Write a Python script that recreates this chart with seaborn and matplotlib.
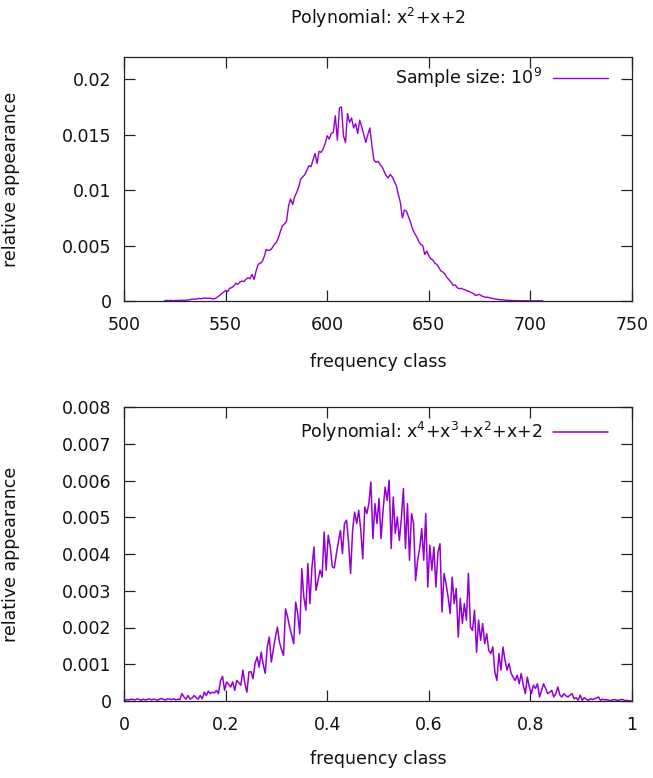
import numpy as np
import pandas as pd
import matplotlib
matplotlib.use('Agg')
import matplotlib.pyplot as plt
import seaborn as sns
from matplotlib.ticker import FuncFormatter

# top panel: x^2+x+2, frequency classes 520..706, relative appearance in units of 1e-4
quad_classes = list(range(520, 707))
quad_appearance_e4 = [
    0.3, 0.5, 0.4, 0.6, 0.3, 0.5, 0.4, 0.6, 0.5, 0.7,
    0.6, 0.8, 1.0, 1.5, 1.8, 1.6, 2.0, 2.3, 2.0, 2.5,
    2.7, 2.4, 2.6, 2.2, 1.8, 2.4, 3.5, 5.0, 6.5, 8.0,
    9.5, 8.5, 11.5, 12.0, 13.5, 16.0, 15.0, 17.0, 18.0, 17.5,
    19.5, 21.0, 20.0, 24.0, 19.5, 27.0, 33.0, 34.0, 35.5, 40.0,
    46.5, 45.5, 46.0, 48.0, 51.0, 53.0, 57.0, 63.0, 68.0, 69.5,
    72.0, 86.0, 92.0, 87.0, 94.0, 98.0, 103.0, 110.0, 112.0, 114.0,
    118, 122, 121, 127, 133, 124, 135, 134, 137, 142,
    149, 146, 151, 152, 167, 145, 174, 175, 149, 143,
    169, 161, 165, 156, 160, 151, 163, 157, 150, 143,
    150, 156, 140, 127, 125, 126, 123, 121, 117, 113,
    111, 114, 112, 108, 104, 96, 89, 75, 82, 81,
    76, 71, 65, 61, 58, 54, 51, 50, 42, 45,
    41, 38, 37, 34, 33, 30, 27, 26, 24, 21,
    19, 17, 14, 14.5, 12, 11, 11.5, 10.5, 10, 9,
    8.5, 7.5, 6.5, 5, 5.5, 6, 4.5, 4, 3.2, 3.5,
    2.8, 2.5, 2, 1.8, 1.4, 1.2, 1, 0.8, 0.7, 0.6,
    0.5, 0.3, 0.4, 0.3, 0.4, 0.2, 0.3, 0.2, 0.3, 0.0,
    0.2, 0.1, 0.2, 0.1, 0.2, 0.1, 0.3,
]

# bottom panel: x^4+x^3+x^2+x+2, 250 classes on [0, 1], relative appearance in units of 1e-5
n_bins = 250
quart_classes = (np.arange(n_bins) + 0.5) / n_bins
quart_appearance_e5 = [
    2, 4, 3, 5, 4, 3, 6, 4, 2, 5, 3, 4, 6, 3, 5, 4, 2, 5, 7, 4, 3, 6, 5, 4, 6, 3, 5, 4,
    20, 11, 5, 15, 5, 8, 15, 9, 5, 15, 6, 24, 15, 27, 20, 24, 22, 29, 20, 56, 67, 29,
    52, 45, 38, 52, 29, 56, 50, 43, 84, 47, 24, 79,
    80, 61, 102, 120, 92, 133, 100, 75, 147, 174, 106, 140, 174, 201, 160,
    140, 124, 251, 229, 201, 180, 156, 269, 238, 183, 360, 283, 247, 374, 265,
    365, 419, 301, 328, 356, 337, 460, 356, 451, 419, 365, 362, 400, 433, 464,
    401, 483, 492, 433, 347, 464, 514, 483, 519, 467, 387, 528, 510, 537,
    596, 442, 537, 483, 551, 442, 519, 582, 546, 601, 415, 555, 456, 501, 437,
    497, 578, 415, 537, 383, 510, 483, 328, 383, 415, 469, 383, 510, 310, 424,
    356, 419, 310, 405, 428, 242, 347, 319, 283, 238, 337, 265, 306, 174, 279,
    211, 265, 220, 347, 201, 192, 247, 133, 220, 165, 211, 156, 183, 138, 129,
    147, 79, 56, 129, 84, 147, 111, 84, 102, 75, 65, 56, 70, 47, 75,
    43, 20, 65, 38, 20, 43, 34, 47, 11, 29, 47, 34, 20, 24, 29,
    11, 20, 38, 16, 11, 20, 14, 11, 16, 20, 6, 9, 2, 16, 2,
    9, 5, 2, 6, 4, 6, 8, 11, 2, 5, 3, 4, 2, 1, 3, 4, 2, 2, 4, 4, 1, 2, 0, 1,
]

quad = pd.DataFrame({'cls': quad_classes, 'rel': np.array(quad_appearance_e4) * 1e-4})
quart = pd.DataFrame({'cls': quart_classes, 'rel': np.array(quart_appearance_e5) * 1e-5})

rc = {
    'xtick.direction': 'in', 'ytick.direction': 'in',
    'xtick.top': True, 'ytick.right': True,
    'xtick.major.size': 8, 'ytick.major.size': 8,
    'xtick.major.width': 0.9, 'ytick.major.width': 0.9,
    'axes.linewidth': 0.9, 'axes.edgecolor': '#222222',
    'xtick.color': '#222222', 'ytick.color': '#222222',
    'text.color': '#111111', 'axes.labelcolor': '#111111',
    'xtick.labelcolor': '#111111', 'ytick.labelcolor': '#111111',
}
sns.set_theme(style='ticks', rc=rc)
plt.rcParams['font.family'] = ['DejaVu Sans']
plt.rcParams['mathtext.default'] = 'regular'
fs = 12.5
violet = '#9400d3'
fmt = FuncFormatter(lambda v, p: '%g' % round(v, 6))

W, H = 653, 778
fig = plt.figure(figsize=(W / 100, H / 100), dpi=100)
ax1 = fig.add_axes([124 / W, 1 - 301 / H, 508 / W, 244 / H])
ax2 = fig.add_axes([124 / W, 1 - 701 / H, 508 / W, 294 / H])

sns.lineplot(data=quad, x='cls', y='rel', ax=ax1, color=violet, lw=1.0,
             label=r'Sample size: 10$^{9}$')
sns.lineplot(data=quart, x='cls', y='rel', ax=ax2, color=violet, lw=1.1,
             label=r'Polynomial: x$^{4}$+x$^{3}$+x$^{2}$+x+2')

ax1.set_xlim(500, 750)
ax1.set_ylim(0, 0.022)
ax1.set_xticks(range(500, 751, 50))
ax1.set_yticks([0, 0.005, 0.01, 0.015, 0.02])
ax2.set_xlim(0, 1)
ax2.set_ylim(0, 0.008)
ax2.set_xticks([0, 0.2, 0.4, 0.6, 0.8, 1.0])
ax2.set_yticks([0.001 * k for k in range(9)])

ax1.set_title(r'Polynomial: x$^{2}$+x+2', fontsize=fs, pad=24)

for ax, lab_y in ((ax1, -0.215), (ax2, -0.165)):
    ax.xaxis.set_major_formatter(fmt)
    ax.yaxis.set_major_formatter(fmt)
    ax.tick_params(labelsize=fs, pad=9)
    ax.tick_params(axis='x', pad=11)
    ax.set_xlabel('frequency class', fontsize=fs)
    ax.set_ylabel('relative appearance', fontsize=fs)
    ax.xaxis.set_label_coords(0.5, lab_y)
    ax.yaxis.set_label_coords(-0.205, 0.5)
    for s in ax.spines.values():
        s.set_visible(True)

ax1.legend(loc='center right', bbox_to_anchor=(0.953, 0.914), frameon=False,
           markerfirst=False, handlelength=3.2, handletextpad=0.6,
           borderpad=0, borderaxespad=0, fontsize=fs)
ax2.legend(loc='center right', bbox_to_anchor=(0.953, 0.915), frameon=False,
           markerfirst=False, handlelength=3.2, handletextpad=0.6,
           borderpad=0, borderaxespad=0, fontsize=fs)

fig.savefig('out.png', dpi=100)
